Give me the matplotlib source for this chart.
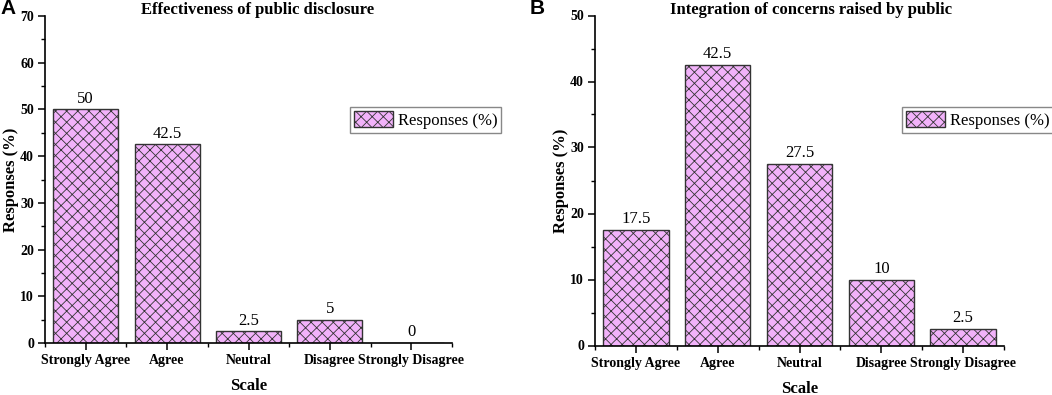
import matplotlib
matplotlib.use("Agg")
import matplotlib.pyplot as plt
from matplotlib.ticker import MultipleLocator, FixedLocator
from matplotlib.patches import Patch

categories = ["Strongly Agree", "Agree", "Neutral", "Disagree", "Strongly Disagree"]
values_a = [50, 42.5, 2.5, 5, 0]
values_b = [17.5, 42.5, 27.5, 10, 2.5]
labels_a = ["50", "42.5", "2.5", "5", "0"]
labels_b = ["17.5", "42.5", "27.5", "10", "2.5"]
title_a = "Effectiveness of public disclosure"
title_b = "Integration of concerns raised by public"
ymax_a = 70
ymax_b = 50

plt.rcParams['font.family'] = ['Liberation Serif', 'DejaVu Serif']
plt.rcParams['hatch.linewidth'] = 0.6
plt.rcParams['hatch.color'] = '#33233a'

FILL = '#f2b2fa'
EDGE = '#333333'

fig = plt.figure(figsize=(10.52, 3.95), dpi=100)

def panel(rect, vals, labs, title, ymax, letter, letter_x, title_cx, leg_xy):
    ax = fig.add_axes(rect)
    x = list(range(len(categories)))
    ax.bar(x, vals, width=0.8, color=FILL, edgecolor=EDGE, linewidth=1.0, hatch='xxx')
    for xi, v, lab in zip(x, vals, labs):
        ax.text(xi, v + 0.4 * ymax / 50, lab, ha='center', va='bottom', fontsize=12)
    ax.set_xlim(-0.5, len(categories) - 0.5)
    ax.set_ylim(0, ymax)
    ax.set_xticks(x)
    ax.set_xticklabels(categories, fontsize=10, fontweight='bold')
    ax.xaxis.set_minor_locator(FixedLocator([i + 0.5 for i in range(-1, len(categories))]))
    ax.yaxis.set_major_locator(MultipleLocator(10))
    ax.yaxis.set_minor_locator(MultipleLocator(5))
    for lab in ax.get_yticklabels():
        lab.set_fontweight('bold')
        lab.set_fontsize(10)
    ax.tick_params(axis='both', which='major', direction='out', length=5, width=1.1, colors='black', pad=3)
    ax.tick_params(axis='both', which='minor', direction='out', length=3, width=1.0)
    ax.spines['top'].set_visible(False)
    ax.spines['right'].set_visible(False)
    for s in ('left', 'bottom'):
        ax.spines[s].set_linewidth(1.2)
    ax.set_xlabel('Scale', fontsize=12, fontweight='bold', labelpad=8)
    ax.set_ylabel('Responses (%)', fontsize=12, fontweight='bold', labelpad=1)
    fig.text(title_cx, 1 - 10 / 395, title, ha='center', va='center', fontsize=12, fontweight='bold')
    fig.text(letter_x, 1 - 9 / 395, letter, ha='left', va='center', fontsize=15, fontweight='bold',
             family=['Liberation Sans', 'DejaVu Sans'])
    h = Patch(facecolor=FILL, edgecolor=EDGE, hatch='xxx', linewidth=1.0, label='Responses (%)')
    leg = fig.legend(handles=[h], loc='upper left', bbox_to_anchor=leg_xy, fontsize=12,
                     frameon=True, fancybox=False, edgecolor='#888888', framealpha=1,
                     handlelength=2.3, handleheight=1.1, borderpad=0.25, handletextpad=0.3,
                     borderaxespad=0)
    leg.get_frame().set_linewidth(1.0)
    return ax

panel([45 / 1052, 1 - 343 / 395, 407 / 1052, 327 / 395], values_a, labels_a, title_a, ymax_a,
      'A', 0 / 1052, 258 / 1052, (350 / 1052, 1 - 107 / 395))
panel([595 / 1052, 1 - 345.5 / 395, 409 / 1052, 330 / 395], values_b, labels_b, title_b, ymax_b,
      'B', 530 / 1052, 811 / 1052, (902 / 1052, 1 - 107 / 395))

fig.savefig('out.png', dpi=100)
